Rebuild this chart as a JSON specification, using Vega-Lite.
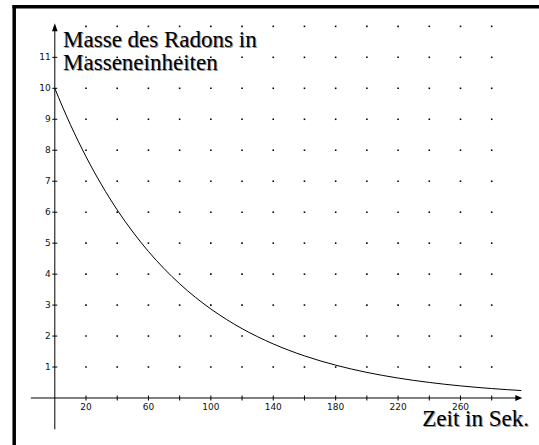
{
  "$schema": "https://vega.github.io/schema/vega-lite/v6.json",
  "width": 539,
  "height": 445,
  "autosize": {"type": "none"},
  "padding": 0,
  "background": "white",
  "config": {"view": {"stroke": null}},
  "datasets": {
    "frame": [
      {"x": -26.02, "y": 12.635, "x2": 312, "y2": 12.635},
      {"x": -26.02, "y": 12.635, "x2": -26.02, "y2": -1.6}
    ],
    "grid": [
      {"x": 20, "ys": [1,2,3,4,5,6,7,8,9,10,11,12]},
      {"x": 40, "ys": [1,2,3,4,5,6,7,8,9,10,11,12]},
      {"x": 60, "ys": [1,2,3,4,5,6,7,8,9,10,11,12]},
      {"x": 80, "ys": [1,2,3,4,5,6,7,8,9,10,11,12]},
      {"x": 100, "ys": [1,2,3,4,5,6,7,8,9,10,11,12]},
      {"x": 120, "ys": [1,2,3,4,5,6,7,8,9,10,11,12]},
      {"x": 140, "ys": [1,2,3,4,5,6,7,8,9,10,11,12]},
      {"x": 160, "ys": [1,2,3,4,5,6,7,8,9,10,11,12]},
      {"x": 180, "ys": [1,2,3,4,5,6,7,8,9,10,11,12]},
      {"x": 200, "ys": [1,2,3,4,5,6,7,8,9,10,11,12]},
      {"x": 220, "ys": [1,2,3,4,5,6,7,8,9,10,11,12]},
      {"x": 240, "ys": [1,2,3,4,5,6,7,8,9,10,11,12]},
      {"x": 260, "ys": [1,2,3,4,5,6,7,8,9,10,11,12]},
      {"x": 280, "ys": [1,2,3,4,5,6,7,8,9,10,11,12]}
    ],
    "axes": [
      {"x": -15.3, "y": 0, "x2": 297, "y2": 0},
      {"x": 0, "y": -1.01, "x2": 0, "y2": 11.9}
    ],
    "xarrow": [{"x": 299.6, "y": 0}],
    "yarrow": [{"x": 0, "y": 12.1}],
    "xticks": [
      {"x": 20, "y": 0}, {"x": 40, "y": 0}, {"x": 60, "y": 0}, {"x": 80, "y": 0},
      {"x": 100, "y": 0}, {"x": 120, "y": 0}, {"x": 140, "y": 0}, {"x": 160, "y": 0},
      {"x": 180, "y": 0}, {"x": 200, "y": 0}, {"x": 220, "y": 0}, {"x": 240, "y": 0},
      {"x": 260, "y": 0}, {"x": 280, "y": 0}
    ],
    "yticks": [
      {"x": 0, "y": 1}, {"x": 0, "y": 2}, {"x": 0, "y": 3}, {"x": 0, "y": 4},
      {"x": 0, "y": 5}, {"x": 0, "y": 6}, {"x": 0, "y": 7}, {"x": 0, "y": 8},
      {"x": 0, "y": 9}, {"x": 0, "y": 10}, {"x": 0, "y": 11}
    ],
    "xlabels": [
      {"x": 20, "y": 0, "t": "20"}, {"x": 60, "y": 0, "t": "60"},
      {"x": 100, "y": 0, "t": "100"}, {"x": 140, "y": 0, "t": "140"},
      {"x": 180, "y": 0, "t": "180"}, {"x": 220, "y": 0, "t": "220"},
      {"x": 260, "y": 0, "t": "260"}
    ],
    "ylabels": [
      {"x": 0, "y": 1, "t": "1"}, {"x": 0, "y": 2, "t": "2"}, {"x": 0, "y": 3, "t": "3"},
      {"x": 0, "y": 4, "t": "4"}, {"x": 0, "y": 5, "t": "5"}, {"x": 0, "y": 6, "t": "6"},
      {"x": 0, "y": 7, "t": "7"}, {"x": 0, "y": 8, "t": "8"}, {"x": 0, "y": 9, "t": "9"},
      {"x": 0, "y": 10, "t": "10"}, {"x": 0, "y": 11, "t": "11"}
    ],
    "curve": [
      {"x": 0, "y": 10}, {"x": 5, "y": 9.396}, {"x": 10, "y": 8.828}, {"x": 15, "y": 8.294},
      {"x": 20, "y": 7.793}, {"x": 30, "y": 6.88}, {"x": 40, "y": 6.073}, {"x": 50, "y": 5.362},
      {"x": 60, "y": 4.733}, {"x": 70, "y": 4.178}, {"x": 80, "y": 3.688}, {"x": 90, "y": 3.256},
      {"x": 100, "y": 2.875}, {"x": 110, "y": 2.538}, {"x": 120, "y": 2.24}, {"x": 130, "y": 1.978},
      {"x": 140, "y": 1.746}, {"x": 150, "y": 1.541}, {"x": 160, "y": 1.361}, {"x": 170, "y": 1.201},
      {"x": 180, "y": 1.06}, {"x": 190, "y": 0.936}, {"x": 200, "y": 0.826}, {"x": 210, "y": 0.73},
      {"x": 220, "y": 0.644}, {"x": 230, "y": 0.569}, {"x": 240, "y": 0.502}, {"x": 250, "y": 0.443},
      {"x": 260, "y": 0.391}, {"x": 270, "y": 0.345}, {"x": 280, "y": 0.305}, {"x": 290, "y": 0.269},
      {"x": 299, "y": 0.241}
    ],
    "titles": [
      {"x": 5.3, "y": 11.34, "t": "Masse des Radons in"},
      {"x": 5.3, "y": 10.59, "t": "Masseneinheiten"},
      {"x": 235.5, "y": -0.894, "t": "Zeit in Sek."}
    ]
  },
  "encoding": {
    "x": {"field": "x", "type": "quantitative", "scale": {"domain": [-35.12, 310.31], "nice": false, "zero": false}, "axis": null},
    "y": {"field": "y", "type": "quantitative", "scale": {"domain": [-1.5176, 12.851], "nice": false, "zero": false}, "axis": null}
  },
  "layer": [
    {
      "data": {"name": "frame"},
      "mark": {"type": "rule", "color": "black", "strokeWidth": 3.5, "strokeCap": "square"},
      "encoding": {"x2": {"field": "x2"}, "y2": {"field": "y2"}}
    },
    {
      "data": {"name": "grid"},
      "transform": [{"flatten": ["ys"], "as": ["y"]}],
      "mark": {"type": "square", "color": "black", "size": 2.5, "opacity": 1, "filled": true}
    },
    {
      "data": {"name": "axes"},
      "mark": {"type": "rule", "color": "black", "strokeWidth": 1},
      "encoding": {"x2": {"field": "x2"}, "y2": {"field": "y2"}}
    },
    {
      "data": {"name": "xarrow"},
      "mark": {"type": "point", "shape": "M0,0L-1,-0.42L-1,0.42Z", "size": 196, "filled": true, "color": "black", "opacity": 1}
    },
    {
      "data": {"name": "yarrow"},
      "mark": {"type": "point", "shape": "M0,0L-0.35,1L0.35,1Z", "size": 256, "filled": true, "color": "black", "opacity": 1}
    },
    {
      "data": {"name": "xticks"},
      "mark": {"type": "tick", "orient": "vertical", "size": 5, "thickness": 1, "color": "black", "opacity": 1}
    },
    {
      "data": {"name": "yticks"},
      "mark": {"type": "tick", "orient": "horizontal", "size": 5, "thickness": 1, "color": "black", "opacity": 1}
    },
    {
      "data": {"name": "xlabels"},
      "mark": {"type": "text", "font": "DejaVu Sans", "fontSize": 9, "baseline": "top", "align": "center", "dy": 5, "color": "#111"},
      "encoding": {"text": {"field": "t"}}
    },
    {
      "data": {"name": "ylabels"},
      "mark": {"type": "text", "font": "DejaVu Sans", "fontSize": 9, "baseline": "middle", "align": "right", "dx": -4, "color": "#111"},
      "encoding": {"text": {"field": "t"}}
    },
    {
      "data": {"name": "curve"},
      "mark": {"type": "line", "color": "black", "strokeWidth": 1, "interpolate": "monotone"}
    },
    {
      "data": {"name": "titles"},
      "mark": {"type": "text", "font": "Liberation Serif", "fontSize": 23, "baseline": "alphabetic", "align": "left", "dx": 1, "dy": 1, "color": "#999"},
      "encoding": {"text": {"field": "t"}}
    },
    {
      "data": {"name": "titles"},
      "mark": {"type": "text", "font": "Liberation Serif", "fontSize": 23, "baseline": "alphabetic", "align": "left", "color": "black"},
      "encoding": {"text": {"field": "t"}}
    }
  ]
}
